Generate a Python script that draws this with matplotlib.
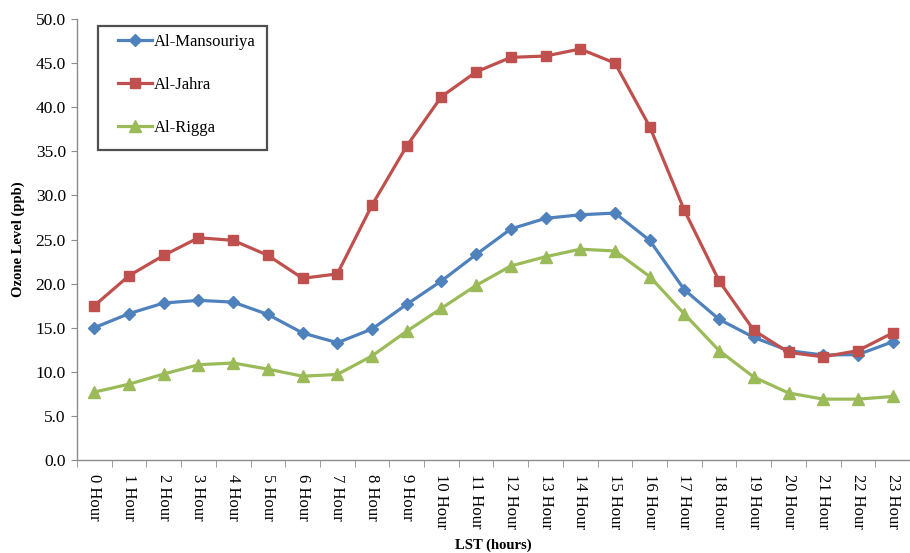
import matplotlib
matplotlib.use("Agg")
import matplotlib.pyplot as plt
from matplotlib.patches import Rectangle
from matplotlib.ticker import FixedLocator, FormatStrFormatter

hours = [f"{h} Hour" for h in range(24)]

mansouriya = [15.0, 16.6, 17.8, 18.1, 17.9, 16.5, 14.4, 13.3, 14.85, 17.65, 20.3, 23.3,
              26.2, 27.4, 27.8, 28.0, 24.9, 19.3, 15.95, 13.9, 12.4, 11.9, 11.95, 13.4]
jahra = [17.5, 20.9, 23.2, 25.2, 24.9, 23.2, 20.6, 21.1, 28.9, 35.6, 41.2, 44.0,
         45.65, 45.8, 46.6, 45.0, 37.8, 28.3, 20.3, 14.7, 12.2, 11.7, 12.4, 14.4]
rigga = [7.7, 8.6, 9.75, 10.8, 11.0, 10.3, 9.5, 9.7, 11.8, 14.6, 17.2, 19.8,
         22.0, 23.05, 23.9, 23.7, 20.8, 16.55, 12.4, 9.4, 7.6, 6.9, 6.9, 7.2]

COR_AZUL = "#4F81BD"
COR_VERMELHO = "#C0504D"
COR_VERDE = "#9BBB59"
COR_EIXO = "#8C8C8C"

plt.rcParams["font.family"] = ["Liberation Serif", "DejaVu Serif"]

fig = plt.figure(figsize=(9.1, 5.53), dpi=100)
ax = fig.add_axes([77 / 910, 1 - 460 / 553, 833 / 910, 441 / 553])

x = list(range(len(hours)))
ax.plot(x, mansouriya, color=COR_AZUL, lw=2.3, marker="D", ms=6.5, label="Al-Mansouriya")
ax.plot(x, jahra, color=COR_VERMELHO, lw=2.3, marker="s", ms=7.5, label="Al-Jahra")
ax.plot(x, rigga, color=COR_VERDE, lw=2.3, marker="^", ms=8.5, label="Al-Rigga")

ax.set_ylim(0, 50)
ax.set_xlim(-0.5, 23.23)
ax.yaxis.set_major_locator(FixedLocator([i * 5 for i in range(11)]))
ax.yaxis.set_major_formatter(FormatStrFormatter("%.1f"))

# categorias: rotulos no centro, tracinhos entre as categorias
ax.set_xticks(x)
ax.set_xticklabels(hours, rotation=270, fontsize=12)
ax.set_xticks([i - 0.5 for i in range(25)], minor=True)
ax.tick_params(axis="x", which="major", length=0, pad=10)
ax.tick_params(axis="x", which="minor", length=5, color=COR_EIXO, direction="out")
ax.tick_params(axis="y", length=4, color=COR_EIXO, labelsize=12.5, pad=4)

for lado in ("top", "right"):
    ax.spines[lado].set_visible(False)
for lado in ("left", "bottom"):
    ax.spines[lado].set_color(COR_EIXO)
    ax.spines[lado].set_linewidth(1.0)

ax.set_ylabel("Ozone Level (ppb)", fontsize=10.5, fontweight="bold", labelpad=8)
ax.set_xlabel("LST (hours)", fontsize=10.5, fontweight="bold", labelpad=7)

# moldura da legenda desenhada a parte (folga maior a esquerda)
ax.add_patch(Rectangle((21 / 833, 1 - 131 / 441), 169 / 833, 124 / 441,
                       transform=ax.transAxes, facecolor="white",
                       edgecolor="#505050", linewidth=1.6, zorder=4, clip_on=False))
leg = ax.legend(loc="upper left", bbox_to_anchor=(41 / 833, 1 - 15 / 441), fontsize=12,
                frameon=False, labelspacing=1.62, handlelength=2.05,
                handletextpad=0.1, borderpad=0, borderaxespad=0)
leg.set_zorder(5)

fig.savefig("out.png", dpi=100, facecolor="white")
